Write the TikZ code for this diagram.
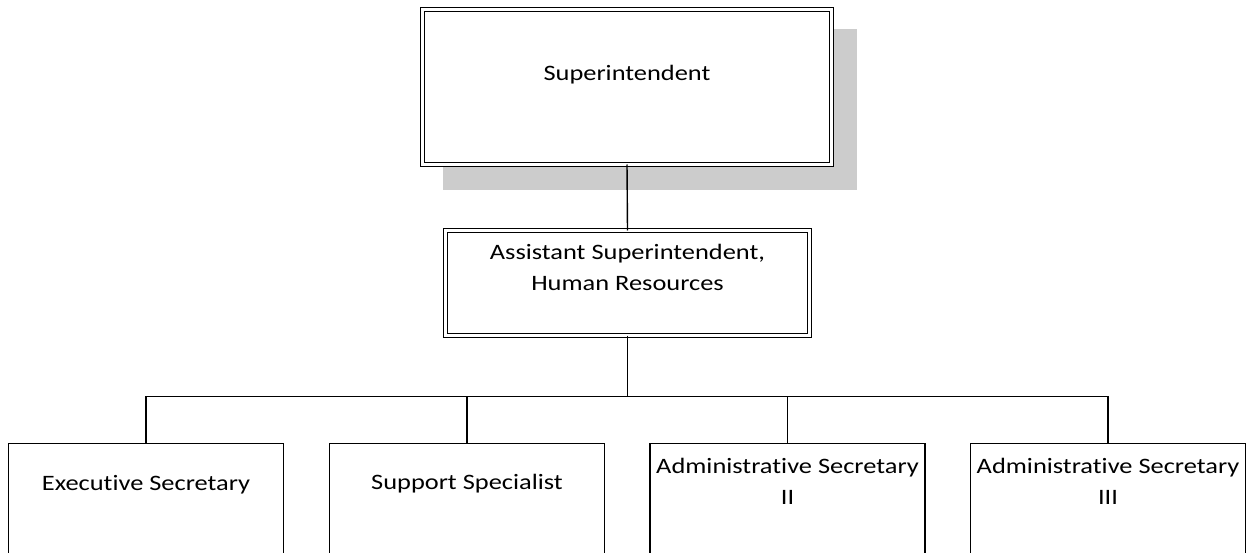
\documentclass[tikz,border=0pt]{standalone}
\usepackage{fontspec}
\setmainfont{Carlito}[FakeStretch=1.2,RawFeature=-liga]
\usetikzlibrary{backgrounds}

\begin{document}
\begin{tikzpicture}[x=1pt,y=-1pt,
  every node/.style={inner sep=0pt,outer sep=0pt},
  roletext/.style={font=\fontsize{22}{31}\selectfont,align=center,anchor=base},
  dblbox/.style={draw,fill=white,line width=1.4pt,double,double distance=2.8pt,anchor=north west},
  plainbox/.style={draw,fill=white,line width=1.6pt,anchor=north west,minimum width=275pt,minimum height=110pt},
  shadowfill/.style={fill=black!20},
  link/.style={draw,line width=1.4pt}]

  \useasboundingbox (0,0) rectangle (1247,553);
  \clip (0,0) rectangle (1247,553);

  % top level
  \node[dblbox,minimum width=409pt,minimum height=155pt] (sup) at (422.5,9.5) {};
  \node[roletext] (suptext) at (627,81) {Superintendent};

  % second level
  \node[dblbox,minimum width=364pt,minimum height=105pt] (ahr) at (445.5,230.5) {};
  \node[roletext,anchor=north] (ahrtext) at (627.5,244) {Assistant Superintendent,\\Human Resources};

  % shadow behind the top box
  \begin{scope}[on background layer]
    \fill[shadowfill] ([shift={(20.5,19.5)}]sup.north west) rectangle ([shift={(25.5,25.5)}]sup.south east);
  \end{scope}

  % third level
  \node[plainbox] (es) at (8.5,443.5) {};
  \node[plainbox] (ss) at (329.5,443.5) {};
  \node[plainbox] (as2) at (650,443.5) {};
  \node[plainbox] (as3) at (970.5,443.5) {};

  \node[roletext] (estext) at (es.north |- 0,490) {Executive Secretary};
  \node[roletext] (sstext) at (ss.north |- 0,489) {Support Specialist};
  \node[roletext,anchor=north] (as2text) at (as2.north |- 0,458) {Administrative Secretary\\II};
  \node[roletext,anchor=north] (as3text) at (as3.north |- 0,458) {Administrative Secretary\\III};

  % connectors
  \coordinate (bus) at (627.5,396.5);
  \draw[link] (sup.south) -- (ahr.north);
  \draw[link] (ahr.south) -- (bus);
  \draw[link] (bus) -| (es.north);
  \draw[link] (bus) -| (ss.north);
  \draw[link] (bus) -| (as2.north);
  \draw[link] (bus) -| (as3.north);
\end{tikzpicture}
\end{document}
